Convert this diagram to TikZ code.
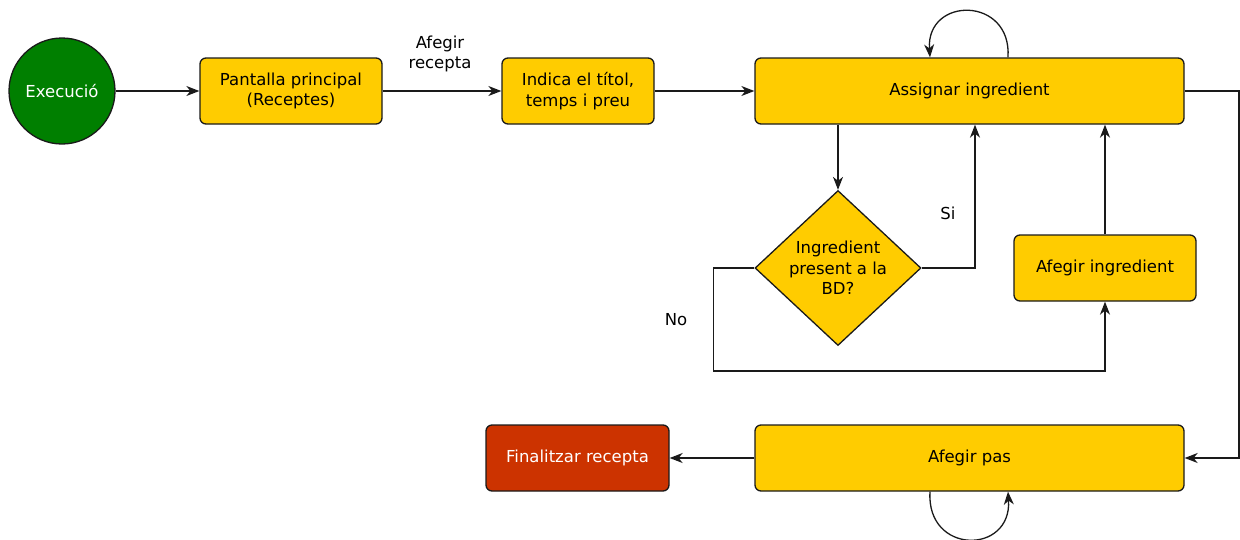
\documentclass[tikz,border=0pt]{standalone}
\usepackage{fontspec}
\setmainfont{DejaVu Sans}
\usetikzlibrary{arrows.meta,shapes.geometric}
\definecolor{boxfill}{HTML}{FFCC00}
\definecolor{startfill}{HTML}{007F00}
\definecolor{endfill}{HTML}{CC3300}
\definecolor{edge}{HTML}{1A1A1A}
\tikzset{
  every node/.style={font=\fontsize{16.5}{20.5}\selectfont},
  stepbox/.style={draw=edge, line width=1.3pt, fill=boxfill, rounded corners=6pt,
    align=center, inner sep=0pt},
  arr/.style={draw=edge, line width=1.3pt,
    -{Stealth[length=13pt,width=10pt,inset=4pt]}},
  lbl/.style={align=center, inner sep=0pt}
}
\begin{document}
\begin{tikzpicture}[x=1pt,y=-1pt]
\useasboundingbox (0,0) rectangle (1240,539);

% start / end
\node[circle, draw=edge, line width=1.3pt, fill=startfill, text=white,
  minimum size=106pt, inner sep=0pt] (start) at (62,91) {Execució};
\node[stepbox, fill=endfill, text=white, minimum width=183pt, minimum height=66pt]
  (fin) at (577.5,458) {Finalitzar recepta};

% process steps
\node[stepbox, minimum width=182pt, minimum height=66pt] (main) at (291,91)
  {Pantalla principal\\(Receptes)};
\node[stepbox, minimum width=152pt, minimum height=66pt] (title) at (578,91)
  {Indica el títol,\\temps i preu};
\node[stepbox, minimum width=429pt, minimum height=66pt] (assign) at (969.5,91)
  {Assignar ingredient};
\node[stepbox, minimum width=182pt, minimum height=66pt] (addingr) at (1105,268)
  {Afegir ingredient};
\node[stepbox, minimum width=429pt, minimum height=66pt] (step) at (969.5,458)
  {Afegir pas};

% decision
\node[diamond, draw=edge, line width=1.3pt, fill=boxfill, align=center,
  minimum width=166pt, minimum height=155pt, inner sep=0pt, aspect=1.07]
  (present) at (838,268) {Ingredient\\present a la\\BD?};

% labels
\node[lbl] (lnew) at (440,54) {Afegir\\recepta};
\node[lbl] (lyes) at (948,213) {Si};
\node[lbl] (lno) at (676,320) {No};

% bend points of the routed connectors
\coordinate (nocorner) at (1105,371);
\coordinate (rightrail) at (1239,91);

% connectors
\draw[arr] (start) -- (main);
\draw[arr] (main) -- (title);
\draw[arr] (title) -- (assign);
\draw[arr] (assign.south -| present.north) -- (present.north);
\draw[arr] (present.east) -| ([xshift=5.5pt]assign.south);
\draw[arr] (present.west) -- ++(-41,0) |- (nocorner) -- (addingr.south);
\draw[arr] (addingr.north) -- (addingr.north |- assign.south);
\draw[arr] (assign.east) -- (rightrail) |- (step.east);
\draw[arr] (step.west) -- (fin.east);

% self loops
\draw[arr] ([xshift=38.5pt]assign.north) .. controls (1012,-4) and (926,-4)
  .. ([xshift=-39.5pt]assign.north);
\draw[arr] ([xshift=-39.5pt]step.south) .. controls (926,555) and (1012,555)
  .. ([xshift=38.5pt]step.south);
\end{tikzpicture}
\end{document}
